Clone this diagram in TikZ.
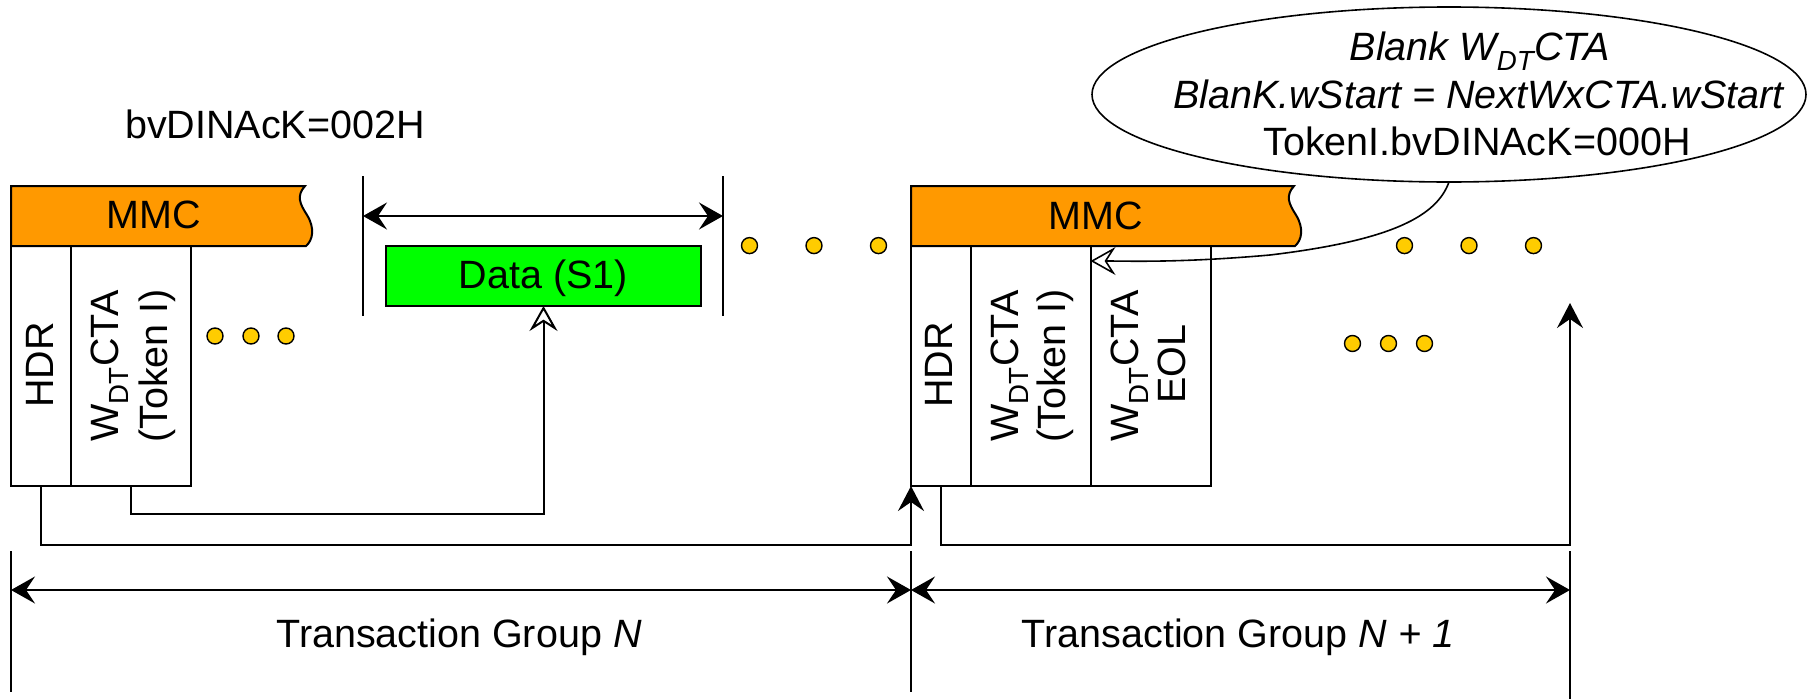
\documentclass[tikz,border=0pt]{standalone}
\usepackage{fontspec}
\setmainfont{Liberation Sans}
\usetikzlibrary{arrows.meta,shapes.geometric}
\definecolor{mmcorange}{HTML}{FF9900}
\definecolor{datagreen}{HTML}{00FF00}
\definecolor{dotgold}{HTML}{FFCC00}

\tikzset{
  every node/.style={font=\fontsize{39.5}{48}\selectfont, inner sep=0pt, outer sep=0pt},
  col/.style={draw, line width=2pt, anchor=north west, minimum height=240pt},
  vlabel/.style={rotate=90, anchor=base},
  dot/.style={circle, draw, fill=dotgold, line width=1.4pt, minimum size=16pt},
  conn/.style={line width=2pt},
  solidtip/.style={arrows={-Stealth[length=25pt,width=26pt,inset=9pt]}},
  dimarrow/.style={line width=2pt, arrows={Stealth[length=24pt,width=27pt,inset=9pt]-Stealth[length=24pt,width=27pt,inset=9pt]}},
  opentip/.style={arrows={-Stealth[open,fill=white,length=25pt,width=28pt,inset=9pt]}},
  extline/.style={line width=2.2pt},
  mmcbar/.style={draw, fill=mmcorange, line width=2pt}
}

\begin{document}
\begin{tikzpicture}[x=1pt,y=-1pt]
\useasboundingbox (0,0) rectangle (1808,699);

% ---- group N: MMC header with torn right edge
\path[mmcbar] (11,186) -- (305,186)
  .. controls (296,196) and (300,204) .. (307,215)
  .. controls (315,228) and (313,240) .. (306,246)
  -- (11,246) -- cycle;
\node[anchor=base] (mmcA) at (153.5,228) {MMC};

\node[col, minimum width=60pt] (hdrA) at (11,246) {};
\node[col, minimum width=120pt] (tokA) at (71,246) {};
\node[vlabel] (hdrAt) at (53,365) {HDR};
\node[vlabel] (tokAt1) at (118,366) {W\textsubscript{DT}CTA};
\node[vlabel] (tokAt2) at (167,366) {(Token I)};

\node[dot] (da1) at (215,336) {};
\node[dot] (da2) at (251,336) {};
\node[dot] (da3) at (286,336) {};

\node[anchor=base] (dinA) at (275,138) {bvDINAcK=002H};

% ---- data block and its span
\node[draw, line width=2pt, fill=datagreen, anchor=north west,
      minimum width=315pt, minimum height=60pt] (data) at (386,246) {};
\node[anchor=base] (datat) at (543.5,288) {Data (S1)};

\coordinate (sTop1) at (363,176);
\coordinate (sBot1) at (363,316);
\coordinate (sTop2) at (723,176);
\coordinate (sBot2) at (723,316);
\draw[extline] (sTop1) -- (sBot1);
\draw[extline] (sTop2) -- (sBot2);
\coordinate (spanL) at (363,216);
\coordinate (spanR) at (723,216);
\draw[dimarrow] (spanL) -- (spanR);

\node[dot] (db1) at (749.5,245.6) {};
\node[dot] (db2) at (814,245.6) {};
\node[dot] (db3) at (878.5,245.6) {};

% ---- group N+1
\path[mmcbar] (911,186) -- (1294,186)
  .. controls (1285,196) and (1289,204) .. (1296,215)
  .. controls (1304,228) and (1302,240) .. (1295,246)
  -- (911,246) -- cycle;
\node[anchor=base] (mmcB) at (1096,229) {MMC};

\node[col, minimum width=60pt] (hdrB) at (911,246) {};
\node[col, minimum width=119.5pt] (tokB) at (971,246) {};
\node[col, minimum width=120pt] (eolB) at (1090.5,246) {};
\node[vlabel] (hdrBt) at (952,365) {HDR};
\node[vlabel] (tokBt1) at (1018,366) {W\textsubscript{DT}CTA};
\node[vlabel] (tokBt2) at (1065,366) {(Token I)};
\node[vlabel] (eolBt1) at (1138,366) {W\textsubscript{DT}CTA};
\node[vlabel] (eolBt2) at (1185,364) {EOL};

\node[dot] (dc1) at (1404.5,245.6) {};
\node[dot] (dc2) at (1469,245.6) {};
\node[dot] (dc3) at (1533.5,245.6) {};

\node[dot] (dd1) at (1352.5,343.5) {};
\node[dot] (dd2) at (1388.5,343.5) {};
\node[dot] (dd3) at (1424.5,343.5) {};

% ---- callout
\node[draw, ellipse, line width=1.6pt, minimum width=714pt, minimum height=175pt] (callout) at (1449,94.5) {};
\node[anchor=base] (cl1) at (1480,60) {\textit{Blank W\textsubscript{DT}CTA}};
\node[anchor=base] (cl2) at (1479,108) {\textit{BlanK.wStart = NextWxCTA.wStart}};
\node[anchor=base] (cl3) at (1477,155) {TokenI.bvDINAcK=000H};

\coordinate (bend) at (1270,255);
\coordinate (eolTip) at ([yshift=-15pt]eolB.north west);
\draw[line width=1.6pt, opentip] (callout.south)
  .. controls (1437,215) and (1395,240) .. (bend)
  .. controls (1180,263) and (1130,261) .. (eolTip);

% ---- connectors below the blocks
\coordinate (j1) at (911,545);
\draw[conn, solidtip] (hdrA.south) |- (j1) -- (hdrB.south west);

\coordinate (j2) at (543.5,514);
\draw[conn, opentip] (tokA.south) |- (j2) -- (data.south);

\coordinate (j3) at (1570,545);
\coordinate (j4) at (1570,303);
\draw[conn, solidtip] (hdrB.south) |- (j3) -- (j4);

% ---- transaction group spans
\coordinate (g0t) at (11,551);   \coordinate (g0b) at (11,692);
\coordinate (g1t) at (911,551);  \coordinate (g1b) at (911,692);
\coordinate (g2t) at (1570,551); \coordinate (g2b) at (1570,699);
\draw[extline] (g0t) -- (g0b);
\draw[extline] (g1t) -- (g1b);
\draw[extline] (g2t) -- (g2b);

\coordinate (g0) at (11,590);
\coordinate (g1) at (911,590);
\coordinate (g2) at (1570,590);
\draw[dimarrow] (g0) -- (g1);
\draw[dimarrow] (g1) -- (g2);

\node[anchor=base] (tgN) at (459,647) {Transaction Group \textit{N}};
\node[anchor=base] (tgN1) at (1238,647) {Transaction Group \textit{N + 1}};
\end{tikzpicture}
\end{document}
